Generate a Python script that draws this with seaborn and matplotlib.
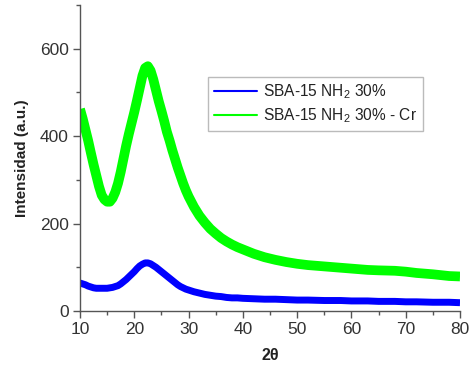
import matplotlib
matplotlib.use("Agg")
import matplotlib.pyplot as plt
from matplotlib.ticker import MultipleLocator
import pandas as pd
import seaborn as sns

# Diffraction angle (2θ, degrees)
two_theta = [10, 10.5, 11, 11.5, 12, 12.5, 13, 13.5, 14, 14.5, 15, 15.5, 16, 16.5,
             17, 17.5, 18, 18.5, 19, 19.5, 20, 20.5, 21, 21.5, 22, 22.5, 23, 23.5,
             24, 24.5, 25, 25.5, 26, 26.5, 27, 27.5, 28, 28.5, 29, 29.5, 30, 31,
             32, 33, 34, 35, 36, 37, 38, 39, 40, 42, 44, 46, 48, 50, 52, 55, 58,
             60, 63, 65, 68, 70, 72, 75, 78, 80]

# SBA-15 NH2 30% intensity (a.u.)
sba15_nh2 = [64, 62, 60, 57, 55, 53, 52, 52, 52, 52, 52, 53, 54, 56,
             58, 62, 67, 72, 78, 84, 90, 97, 103, 107, 110, 110, 108, 104,
             100, 95, 90, 85, 80, 75, 70, 65, 60, 56, 53, 50, 48, 44,
             41, 38, 36, 34, 33, 31, 30, 30, 29, 28, 27, 27, 26, 25, 25, 24, 24,
             23, 23, 22, 22, 21, 21, 20, 20, 19]

# SBA-15 NH2 30% - Cr intensity (a.u.)
sba15_nh2_cr = [462, 440, 415, 390, 362, 335, 310, 285, 265, 255, 250, 250, 258, 272,
                292, 318, 348, 378, 405, 430, 455, 482, 510, 538, 556, 560, 550, 530,
                505, 480, 458, 435, 410, 390, 368, 348, 328, 310, 292, 276, 262, 238,
                218, 202, 188, 177, 167, 159, 152, 146, 141, 131, 123, 117, 112, 108, 105, 102, 99,
                97, 94, 93, 92, 90, 87, 84, 80, 79]

series_labels = ["SBA-15 NH$_2$ 30%", "SBA-15 NH$_2$ 30% - Cr"]
series_colors = ["#0000ff", "#00ff00"]

df = pd.concat([
    pd.DataFrame({"2theta": two_theta, "I": sba15_nh2, "muestra": series_labels[0]}),
    pd.DataFrame({"2theta": two_theta, "I": sba15_nh2_cr, "muestra": series_labels[1]}),
])

sns.set_style("ticks")
plt.rcParams["font.family"] = ["Liberation Sans", "DejaVu Sans"]
plt.rcParams["mathtext.fontset"] = "custom"
plt.rcParams["mathtext.rm"] = "Liberation Sans"
plt.rcParams["mathtext.it"] = "Liberation Sans:italic"
plt.rcParams["mathtext.bf"] = "Liberation Sans:bold"

fig = plt.figure(figsize=(4.69, 3.70), dpi=100)
ax = fig.add_axes([80 / 469, 1 - 311 / 370, 380 / 469, 306 / 370])

sns.lineplot(data=df, x="2theta", y="I", hue="muestra", palette=series_colors,
             hue_order=series_labels, ax=ax, legend=False)
for line, lw in zip(ax.lines, [5.0, 7.0]):
    line.set_linewidth(lw)
    line.set_solid_joinstyle("round")
    line.set_solid_capstyle("butt")

ax.set_xlim(10, 80)
ax.set_ylim(0, 700)
ax.xaxis.set_major_locator(MultipleLocator(10))
ax.xaxis.set_minor_locator(MultipleLocator(5))
ax.yaxis.set_minor_locator(MultipleLocator(100))
ax.set_yticks([0, 200, 400, 600])

sns.despine(ax=ax)
for s in ["left", "bottom"]:
    ax.spines[s].set_color("#555555")
    ax.spines[s].set_linewidth(1.0)
ax.tick_params(which="major", direction="out", length=5, width=1, color="#555555",
               labelsize=12.5, labelcolor="#333333", pad=3)
ax.tick_params(which="minor", direction="out", length=3, width=1, color="#555555")

ax.set_xlabel("2θ", fontsize=11.5, fontweight="bold", color="#222222", labelpad=8)
ax.set_ylabel("Intensidad (a.u.)", fontsize=11, fontweight="bold", color="#222222", labelpad=8)

handles = [plt.Line2D([], [], color=c, linewidth=1.5) for c in series_colors]
leg = ax.legend(handles, series_labels, loc="upper left", bbox_to_anchor=(0.337, 0.765),
                borderaxespad=0, fancybox=False, frameon=True, fontsize=11.2,
                handlelength=2.8, handletextpad=0.4, borderpad=0.35, labelspacing=0.35)
leg.get_frame().set_edgecolor("#aaaaaa")
leg.get_frame().set_linewidth(1.0)
for t in leg.get_texts():
    t.set_color("#222222")

fig.savefig("out.png", dpi=100)
